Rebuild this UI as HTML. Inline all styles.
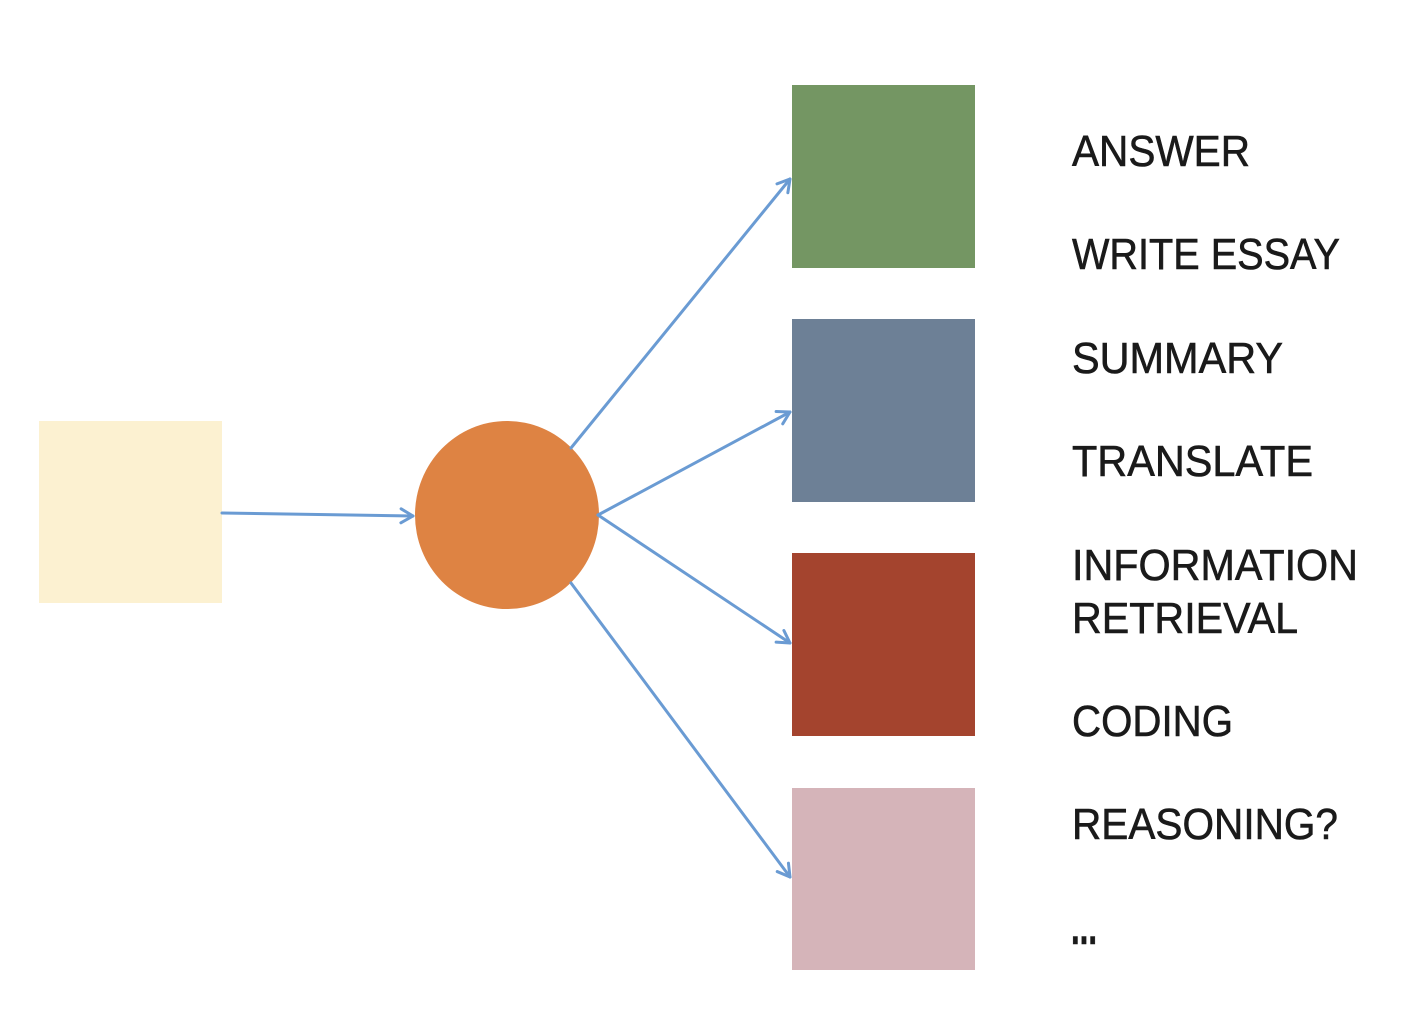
<!DOCTYPE html>
<html><head><meta charset="utf-8"><style>html,body{margin:0;padding:0;background:#fff}svg{display:block}</style></head>
<body>
<svg width="1424" height="1036" viewBox="0 0 1424 1036" xmlns="http://www.w3.org/2000/svg">
<defs>
<marker id="a" markerWidth="20" markerHeight="20" refX="14" refY="10" orient="auto" markerUnits="userSpaceOnUse">
<path d="M2,3 L14,10 L2,17" fill="none" stroke="#6a9bd3" stroke-width="3" stroke-linecap="round" stroke-linejoin="round"/>
</marker>
</defs>
<rect x="39" y="421" width="183" height="182" fill="#fcf1d1"/>
<ellipse cx="507" cy="515" rx="92" ry="94" fill="#de8343"/>
<rect x="792" y="85" width="183" height="183" fill="#749663"/>
<rect x="792" y="319" width="183" height="183" fill="#6d8096"/>
<rect x="792" y="553" width="183" height="183" fill="#a4442e"/>
<rect x="792" y="788" width="183" height="182" fill="#d5b4b9"/>
<g stroke="#6a9bd3" stroke-width="3" fill="none" stroke-linecap="round" marker-end="url(#a)">
<line x1="222" y1="513" x2="413" y2="516"/>
<line x1="571" y1="448" x2="790" y2="179"/>
<line x1="598" y1="515" x2="790" y2="412"/>
<line x1="598" y1="515" x2="790" y2="643"/>
<line x1="571" y1="583" x2="790" y2="877"/>
</g>
<g font-family="Liberation Sans, sans-serif" font-size="44" fill="#1a1a1a" stroke="#1a1a1a" stroke-width="0.6">
<text x="1072" y="166" textLength="178" lengthAdjust="spacingAndGlyphs">ANSWER</text>
<text x="1072" y="269" textLength="268" lengthAdjust="spacingAndGlyphs">WRITE ESSAY</text>
<text x="1072" y="373" textLength="211" lengthAdjust="spacingAndGlyphs">SUMMARY</text>
<text x="1072" y="476" textLength="241" lengthAdjust="spacingAndGlyphs">TRANSLATE</text>
<text x="1072" y="580" textLength="286" lengthAdjust="spacingAndGlyphs">INFORMATION</text>
<text x="1072" y="633" textLength="226" lengthAdjust="spacingAndGlyphs">RETRIEVAL</text>
<text x="1072" y="736" textLength="161" lengthAdjust="spacingAndGlyphs">CODING</text>
<text x="1072" y="839" textLength="266" lengthAdjust="spacingAndGlyphs">REASONING?</text>
<text x="1071" y="944" font-size="50" font-weight="bold" textLength="26" lengthAdjust="spacingAndGlyphs">...</text>
</g>
</svg>
</body></html>
